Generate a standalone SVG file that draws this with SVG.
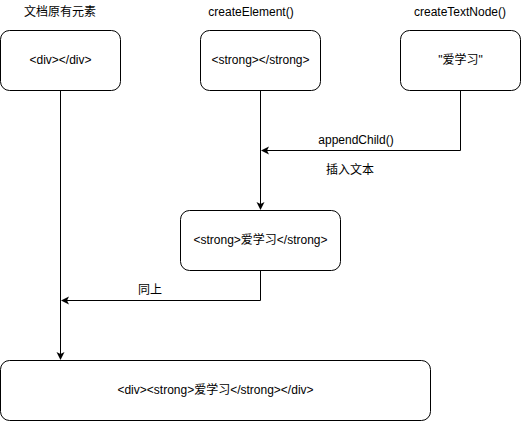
<svg xmlns="http://www.w3.org/2000/svg" width="521" height="421" viewBox="0 0 521 421">
<style>
.box{fill:#fff;stroke:#000;stroke-width:1}
.t{font-family:"Liberation Sans","Noto Sans CJK SC",sans-serif;font-size:12px;fill:#000;text-anchor:middle;dominant-baseline:central}
.l{font-family:"Liberation Sans","Noto Sans CJK SC",sans-serif;font-size:12px;fill:#000;text-anchor:middle;dominant-baseline:central}
.c{fill:none;stroke:#000;stroke-width:1}
</style>
<defs>
<marker id="arr" markerWidth="10" markerHeight="10" refX="7" refY="4" orient="auto" markerUnits="userSpaceOnUse">
<path d="M0,0 L8,4 L0,8 L2,4 Z" fill="#000"/>
</marker>
</defs>
<rect width="521" height="421" fill="#fff"/>
<g id="connectors">
<path class="c" d="M460.5,90 V150.5 H262" marker-end="url(#arr)"/>
<path class="c" d="M260.5,90 V209" marker-end="url(#arr)"/>
<path class="c" d="M260.5,270 V300.5 H62" marker-end="url(#arr)"/>
<path class="c" d="M60.5,90 V359" marker-end="url(#arr)"/>
<text class="l" x="356" y="140">appendChild()</text>
<text class="l" x="350" y="170">插入文本</text>
<text class="l" x="150" y="290">同上</text>
</g>
<g id="n1">
<text class="l" x="60" y="12">文档原有元素</text>
<rect class="box" x="0.5" y="30.5" width="120" height="60" rx="9"/>
<text class="t" x="60.5" y="60">&lt;div&gt;&lt;/div&gt;</text>
</g>
<g id="n2">
<text class="l" x="251" y="12">createElement()</text>
<rect class="box" x="200.5" y="30.5" width="120" height="60" rx="9"/>
<text class="t" x="260.5" y="60">&lt;strong&gt;&lt;/strong&gt;</text>
</g>
<g id="n3">
<text class="l" x="460" y="12">createTextNode()</text>
<rect class="box" x="400.5" y="30.5" width="120" height="60" rx="9"/>
<text class="t" x="460.5" y="60">"爱学习"</text>
</g>
<g id="n4">
<rect class="box" x="180.5" y="210.5" width="160" height="60" rx="9"/>
<text class="t" x="260.5" y="240">&lt;strong&gt;爱学习&lt;/strong&gt;</text>
</g>
<g id="n5">
<rect class="box" x="0.5" y="360.5" width="430" height="60" rx="9"/>
<text class="t" x="215.5" y="390">&lt;div&gt;&lt;strong&gt;爱学习&lt;/strong&gt;&lt;/div&gt;</text>
</g>
</svg>
